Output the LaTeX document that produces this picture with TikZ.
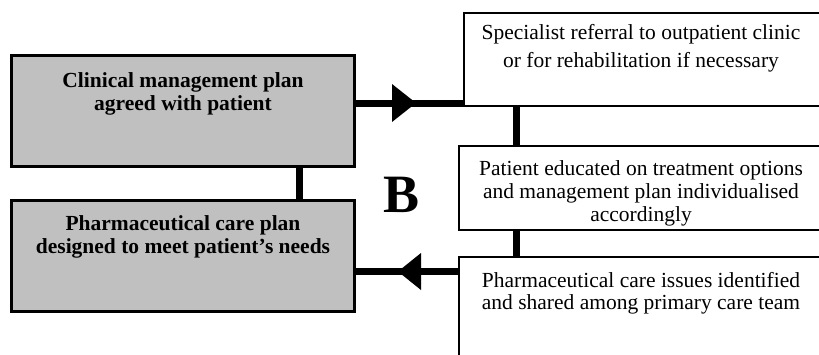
\documentclass[tikz,border=0pt]{standalone}
\usepackage{fontspec}
\setmainfont{Liberation Serif}
\definecolor{boxgray}{HTML}{C0C0C0}
\begin{document}
\begin{tikzpicture}[x=1pt,y=-1pt,
  graybox/.style={draw=black, line width=3pt, fill=boxgray, inner sep=0pt},
  whitebox/.style={draw=black, line width=1.8pt, fill=white, inner sep=0pt},
  btxt/.style={font=\fontsize{21.5}{23}\selectfont\bfseries, align=center, inner sep=0pt},
  rtxt/.style={font=\fontsize{21.5}{#1}\selectfont, align=center, inner sep=0pt},
  link/.style={line width=7pt},
  tip/.style={fill=black}]
\useasboundingbox (0,0) rectangle (819,354);
\clip (0,0) rectangle (819,354);
\fill[white] (0,0) rectangle (819,354);
% boxes
\node[graybox, minimum width=343pt, minimum height=111pt] (tl) at (183,111) {};
\node[graybox, minimum width=343pt, minimum height=111pt] (bl) at (183,256) {};
\node[whitebox, minimum width=360pt, minimum height=93pt] (rt) at (644,59.5) {};
\node[whitebox, minimum width=365pt, minimum height=84pt] (rm) at (641.5,188) {};
\node[whitebox, minimum width=365pt, minimum height=112pt] (rb) at (641.5,313) {};
% texts
\node[btxt] (tlt) at (183,93.7) {Clinical management plan\\agreed with patient};
\node[btxt] (blt) at (183,236.7) {Pharmaceutical care plan\\designed to meet patient’s needs};
\node[rtxt=28] (rtt) at (641,48) {Specialist referral to outpatient clinic\\or for rehabilitation if necessary};
\node[rtxt=23] (rmt) at (641,193) {Patient educated on treatment options\\and management plan individualised\\accordingly};
\node[rtxt=22] (rbt) at (641,293) {Pharmaceutical care issues identified\\and shared among primary care team};
\node[font=\fontsize{54}{60}\selectfont\bfseries, inner sep=0pt] (lab) at (402,195) {B};
% connectors
\coordinate (cl) at (299,0);
\coordinate (cr) at (516,0);
\coordinate (a1) at (0,103);
\coordinate (a2) at (0,271.5);
\draw[link] (tl.south -| cl) -- (bl.north -| cl);
\draw[link] (rt.south -| cr) -- (rm.north -| cr);
\draw[link] (rm.south -| cr) -- (rb.north -| cr);
\draw[link] (tl.east |- a1) -- (rt.west |- a1);
\draw[link] (rb.west |- a2) -- (bl.east |- a2);
\coordinate (t1) at (416,103);
\coordinate (t2) at (398,271.5);
\fill[tip] (t1) -- ++(-24,-19) -- ++(0,38) -- cycle;
\fill[tip] (t2) -- ++(23,-18.5) -- ++(0,37) -- cycle;
\end{tikzpicture}
\end{document}
